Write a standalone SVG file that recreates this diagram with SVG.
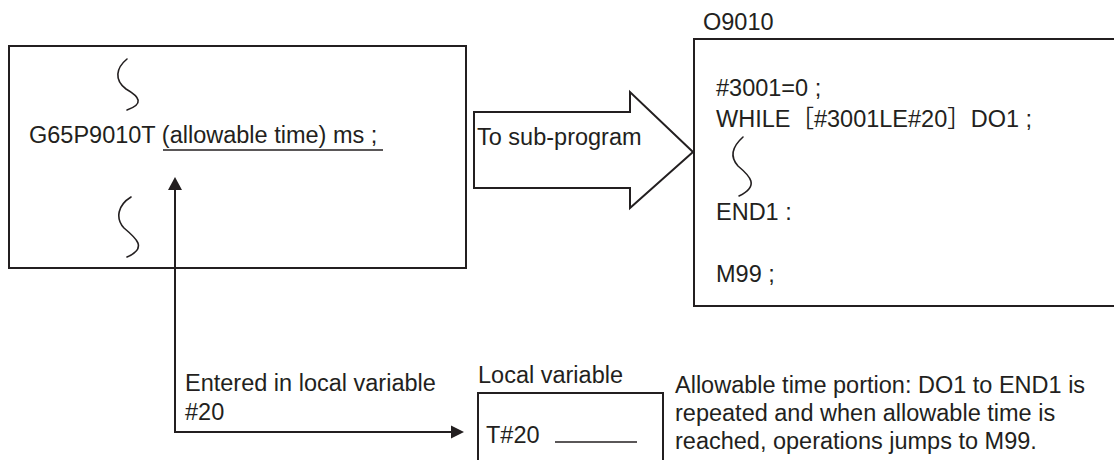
<svg xmlns="http://www.w3.org/2000/svg" width="1114" height="460" viewBox="0 0 1114 460">
  <style>
    .t { font-family: "Liberation Sans", "Noto Sans CJK JP", Arial, sans-serif; font-size: 23.5px; fill: #231f20; }
    .box { fill: none; stroke: #231f20; stroke-width: 2; }
    .sq { fill: none; stroke: #231f20; stroke-width: 1.6; stroke-linecap: round; }
    .ln { fill: none; stroke: #231f20; stroke-width: 2; }
    .ah { fill: #231f20; stroke: none; }
  </style>
  <rect x="0" y="0" width="1114" height="460" fill="#ffffff"/>

  <g id="main-program">
    <rect class="box" x="9" y="46" width="457" height="222"/>
    <path class="sq" d="M127,59 C116,68 114,80 126,89 C140,97 144,104 127,110"/>
    <path class="sq" d="M131,197 C118,205 115,218 124,228 C136,238 148,248 127,257"/>
    <text class="t" x="29" y="143">G65P9010T (allowable time) ms ;</text>
    <line x1="163" y1="150" x2="383" y2="150" stroke="#231f20" stroke-width="1.5"/>
  </g>

  <g id="to-subprogram">
    <polygon class="box" points="474,112 630,112 630,92 693,152 630,208 630,188 474,188"/>
    <text class="t" x="477" y="145">To sub-program</text>
  </g>

  <g id="subprogram-o9010">
    <text class="t" x="703" y="30">O9010</text>
    <rect class="box" x="694" y="39" width="440" height="267"/>
    <text class="t" x="716" y="96">#3001=0 ;</text>
    <text class="t" x="716" y="127">WHILE［#3001LE#20］DO1 ;</text>
    <path class="sq" d="M743,137 C733,146 729,156 738,166 C750,176 760,186 739,196"/>
    <text class="t" x="716" y="220">END1 :</text>
    <text class="t" x="716" y="282">M99 ;</text>
  </g>

  <g id="local-variable">
    <text class="t" x="478" y="383">Local variable</text>
    <rect class="box" x="478" y="393" width="185" height="90"/>
    <text class="t" x="486" y="443">T#20</text>
    <line x1="555" y1="442" x2="637" y2="442" stroke="#231f20" stroke-width="1.5"/>
  </g>

  <g id="entered-label">
    <text class="t" x="185" y="391">Entered in local variable</text>
    <text class="t" x="185" y="420">#20</text>
  </g>

  <g id="note">
    <text class="t" x="675" y="393">Allowable time portion: DO1 to END1 is</text>
    <text class="t" x="675" y="421">repeated and when allowable time is</text>
    <text class="t" x="675" y="449">reached, operations jumps to M99.</text>
  </g>

  <g id="connectors">
    <polyline class="ln" points="175,189 175,432 452,432"/>
    <polygon class="ah" points="175,177 168,190 182,190"/>
    <polygon class="ah" points="464,432 451,425.5 451,438.5"/>
  </g>
</svg>
